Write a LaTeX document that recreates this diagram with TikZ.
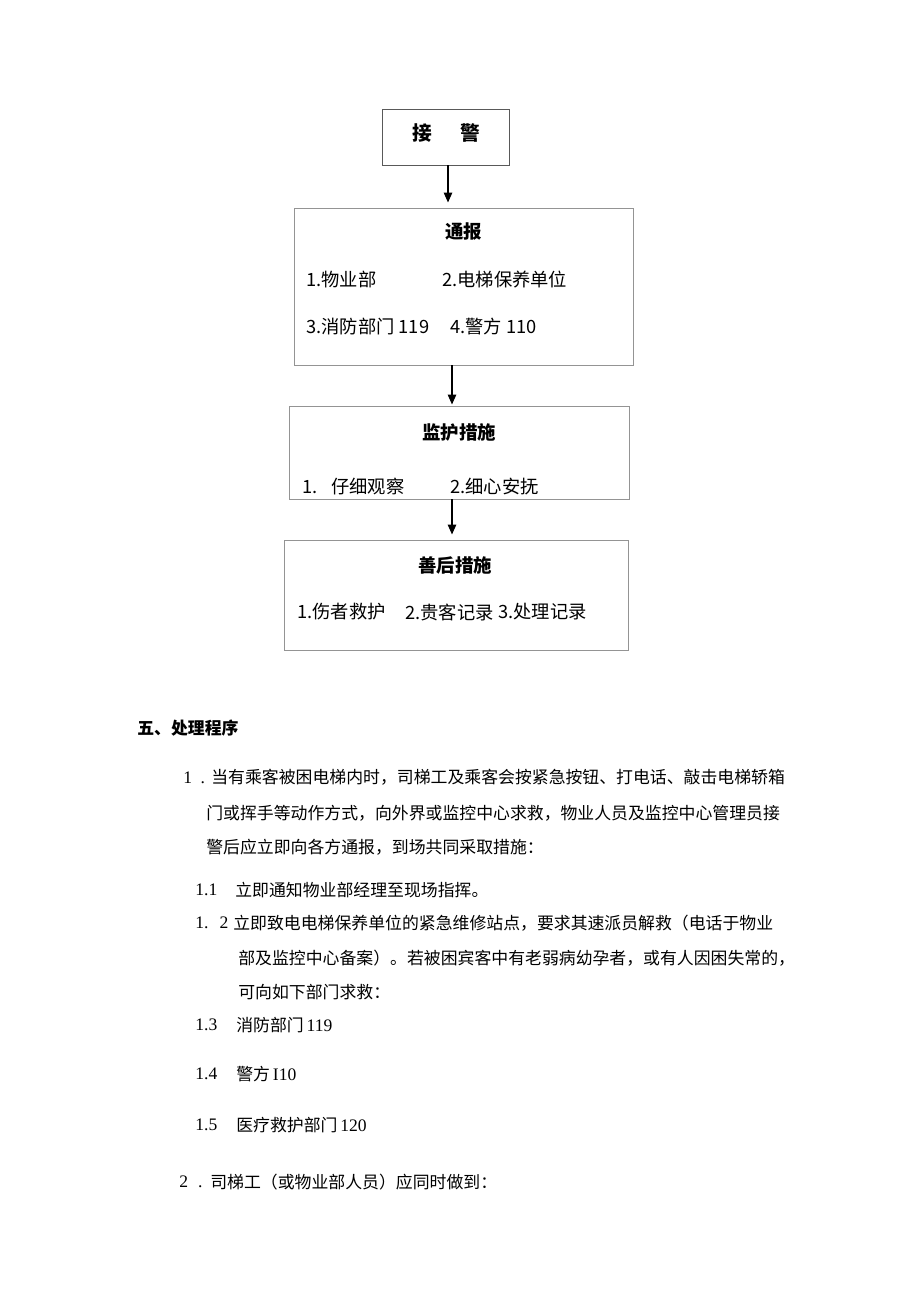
\documentclass[tikz,border=0pt]{standalone}
\usepackage{fontspec}
\setmainfont{Noto Sans CJK SC}
\newfontfamily\numfont{Liberation Serif}
\usetikzlibrary{arrows.meta, positioning}
\definecolor{boxgray}{gray}{0.58}
\definecolor{headgray}{gray}{0.35}

\begin{document}
\begin{tikzpicture}[
    >={Triangle[length=0.2cm, width=0.17cm]},
    box/.style={draw=boxgray, line width=0.55pt, inner sep=0pt},
    title/.style={inner sep=0pt, font=\fontsize{10.5}{12}\selectfont\bfseries},
    entry/.style={anchor=west, inner sep=0pt, font=\fontsize{10.4}{12}\selectfont},
    para/.style={anchor=west, inner sep=0pt, font=\fontsize{9.6}{11}\selectfont},
    num/.style={anchor=west, inner sep=0pt, font=\numfont\fontsize{10}{12}\selectfont},
    flow/.style={->, line width=0.8pt}
  ]
  \useasboundingbox (0,0) rectangle (18.4,-26.02);

  % flow chart
  \node[box, draw=headgray, minimum width=2.54cm, minimum height=1.12cm] (jieJing) at (8.91,-2.74) {};
  \node[title, font=\fontsize{11.2}{12}\selectfont\bfseries] (jjText) at (8.92,-2.66) {接\hspace{1.45em}警};

  \node[box, minimum width=6.78cm, minimum height=3.14cm] (tongBao) at (9.27,-5.73) {};
  \node[title] (tbTitle) at (9.27,-4.64) {通报};
  \node[entry] (tb1) at (6.12,-5.6) {1.物业部};
  \node[entry] (tb2) at (8.84,-5.6) {2.电梯保养单位};
  \node[entry] (tb3) at (6.12,-6.54) {3.消防部门 119};
  \node[entry] (tb4) at (9.0,-6.54) {4.警方 110};

  \node[box, minimum width=6.8cm, minimum height=1.86cm] (jianHu) at (9.18,-9.05) {};
  \node[title] (jhTitle) at (9.18,-8.64) {监护措施};
  \node[entry] (jh1) at (6.04,-9.74) {1.\hspace{0.75em}仔细观察};
  \node[entry] (jh2) at (9.0,-9.74) {2.细心安抚};

  \node[box, minimum width=6.88cm, minimum height=2.2cm] (shanHou) at (9.12,-11.9) {};
  \node[title] (shTitle) at (9.1,-11.3) {善后措施};
  \node[entry] (sh1) at (5.94,-12.24) {1.伤者救护};
  \node[entry] (sh2) at (8.1,-12.24) {2.贵客记录};
  \node[entry] (sh3) at (9.96,-12.24) {3.处理记录};

  \coordinate (a1) at ([xshift=0.05cm]jieJing.south);
  \coordinate (a2) at ([xshift=-0.23cm]tongBao.south);
  \coordinate (a3) at ([xshift=-0.14cm]jianHu.south);
  \draw[flow, shorten >=0.1cm] (a1) -- (a1 |- tongBao.north);
  \draw[flow, shorten >=0.02cm] (a2) -- (a2 |- jianHu.north);
  \draw[flow, shorten >=0.1cm] (a3) -- (a3 |- shanHou.north);

  % procedure text
  \node[para, font=\fontsize{9.6}{11}\selectfont\bfseries] (head) at (2.74,-14.56) {五、处理程序};

  \node[num] (n1) at (3.66,-15.56) {1\hspace{0.17cm}.};
  \node[para] (p1a) at (4.22,-15.54) {当有乘客被困电梯内时，司梯工及乘客会按紧急按钮、打电话、敲击电梯轿箱};
  \node[para] (p1b) at (4.12,-16.26) {门或挥手等动作方式，向外界或监控中心求救，物业人员及监控中心管理员接};
  \node[para] (p1c) at (4.12,-16.94) {警后应立即向各方通报，到场共同采取措施：};

  \node[num] (n11) at (3.9,-17.8) {1.1};
  \node[para] (p11) at (4.7,-17.8) {立即通知物业部经理至现场指挥。};
  \node[num] (n12) at (3.9,-18.46) {1.\hspace{0.22cm}2};
  \node[para] (p12a) at (4.66,-18.46) {立即致电电梯保养单位的紧急维修站点，要求其速派员解救（电话于物业};
  \node[para] (p12b) at (4.76,-19.16) {部及监控中心备案）。若被困宾客中有老弱病幼孕者，或有人因困失常的，};
  \node[para] (p12c) at (4.76,-19.84) {可向如下部门求救：};

  \node[num] (n13) at (3.9,-20.5) {1.3};
  \node[para] (p13) at (4.72,-20.5) {消防部门\,{\numfont\fontsize{10}{12}\selectfont 119}};
  \node[num] (n14) at (3.9,-21.48) {1.4};
  \node[para] (p14) at (4.72,-21.48) {警方\,{\numfont\fontsize{10}{12}\selectfont I10}};
  \node[num] (n15) at (3.9,-22.5) {1.5};
  \node[para] (p15) at (4.72,-22.5) {医疗救护部门\,{\numfont\fontsize{10}{12}\selectfont 120}};

  \node[num] (n2) at (3.58,-23.64) {2\hspace{0.2cm}.};
  \node[para] (p2) at (4.2,-23.64) {司梯工（或物业部人员）应同时做到：};
\end{tikzpicture}
\end{document}
